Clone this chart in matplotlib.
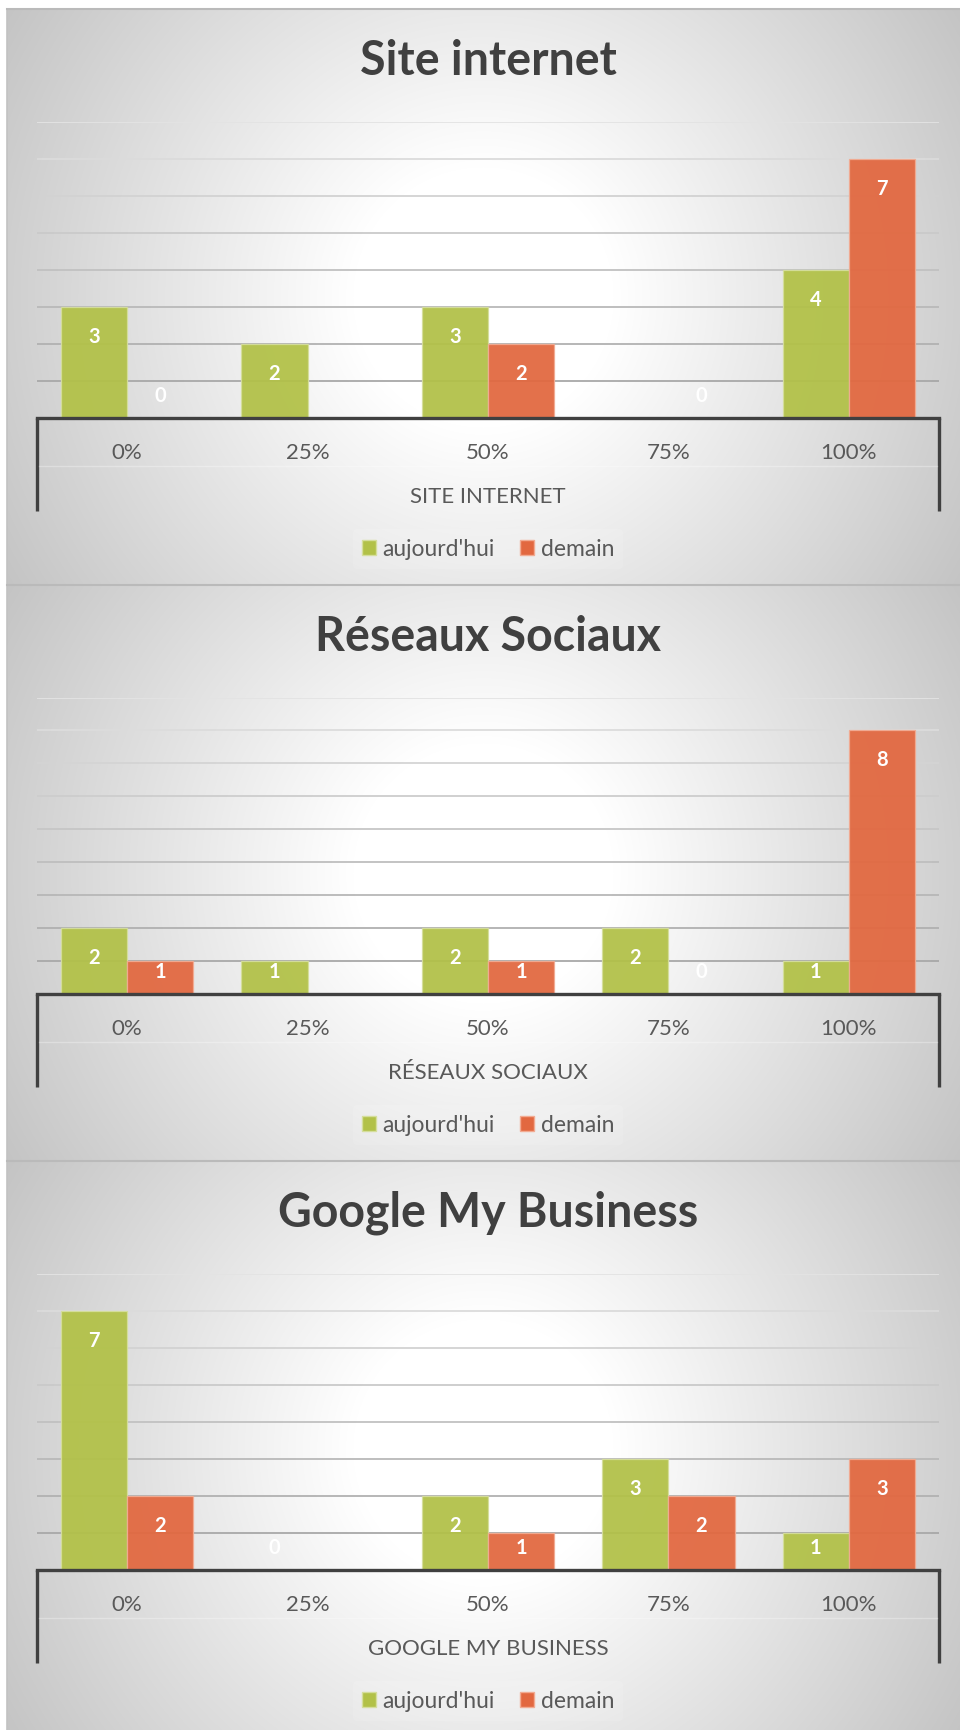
import numpy as np
import matplotlib
matplotlib.use("Agg")
import matplotlib.pyplot as plt
from matplotlib.patches import Patch

plt.rcParams['font.family'] = ['Lato', 'DejaVu Sans']

# ---- data (None = no bar / no label) ----
categories = ['0%', '25%', '50%', '75%', '100%']
series_names = ["aujourd'hui", 'demain']

titles = ['Site internet', 'Réseaux Sociaux', 'Google My Business']
axis_titles = ['SITE INTERNET', 'RÉSEAUX SOCIAUX', 'GOOGLE MY BUSINESS']

site_auj = [3, 2, 3, None, 4]
site_dem = [0, None, 2, 0, 7]
reseaux_auj = [2, 1, 2, 2, 1]
reseaux_dem = [1, None, 1, 0, 8]
google_auj = [7, 0, 2, 3, 1]
google_dem = [2, None, 1, 2, 3]

y_max = [8, 9, 8]

panels_data = [(site_auj, site_dem), (reseaux_auj, reseaux_dem), (google_auj, google_dem)]

# ---- layout (pixels) ----
W, H = 960, 1731
panel_tops = [10, 586, 1162]
panel_bottoms = [586, 1162, 1731]
x_left, x_right = 37, 939
green = '#b2c148'
orange = '#e26840'

fig = plt.figure(figsize=(W / 100, H / 100), dpi=100)

# background: radial gradient per panel
bg = np.ones((H, W, 3))
yy, xx = np.mgrid[0:H, 0:W]
for top, bot in zip(panel_tops, panel_bottoms):
    cx, cy = 483, top + 288
    d = np.sqrt((xx - cx) ** 2 + (yy - cy) ** 2)
    v = 255 - 59 * np.clip((d - 130) / 427, 0, 1)
    mask = (yy >= top) & (yy < bot) & (xx >= 7)
    for c in range(3):
        bg[..., c][mask] = v[mask] / 255
bax = fig.add_axes([0, 0, 1, 1])
bax.imshow(bg, extent=(0, W, H, 0), aspect='auto', interpolation='bilinear')
bax.set_xlim(0, W)
bax.set_ylim(H, 0)
bax.axis('off')
bax.plot([7, 7], [10, H], color='#c2c2c2', lw=1.2)

for i, top in enumerate(panel_tops):
    auj, dem = panels_data[i]
    base = top + 409
    gtop = top + 112.5
    bax.plot([7, W], [top, top], color='#bababa', lw=1.5)

    ax = fig.add_axes([x_left / W, 1 - base / H, (x_right - x_left) / W, (base - gtop) / H])
    ax.patch.set_visible(False)
    ax.set_xlim(-0.5, 4.5)
    ax.set_ylim(0, y_max[i])
    for s in ['top', 'left', 'right']:
        ax.spines[s].set_visible(False)
    ax.spines['bottom'].set_color('#404040')
    ax.spines['bottom'].set_linewidth(2.4)
    ax.spines['bottom'].set_zorder(5)
    ax.set_yticks([])

    # gridlines, lighter toward the top
    n = y_max[i]
    for k in range(1, n + 1):
        g = 0.66 + 0.23 * (k - 1) / (n - 1)
        ax.axhline(k, color=(g, g, g), lw=1.3, zorder=1)

    unit_px = (base - gtop) / n
    x = np.arange(len(categories))
    w = 0.367
    for vals, off, col, ec in [(auj, -w / 2, green, '#d5de9c'), (dem, w / 2, orange, '#f2ab92')]:
        hv = [v if v is not None else 0 for v in vals]
        ax.bar(x + off, hv, width=w, color=col, alpha=0.94, edgecolor=ec, linewidth=0.9, zorder=2)
        for xi, v in zip(x, vals):
            if v is None:
                continue
            ypx = max(v * unit_px - 29, 23)
            ax.text(xi + off, ypx / unit_px, str(v), ha='center', va='center',
                    color='white', fontsize=14.5, fontweight='bold', zorder=4)

    ax.set_xticks(x)
    ax.set_xticklabels(categories, fontsize=16, color='#595959')
    ax.tick_params(axis='x', length=0, pad=17)

    handles = [Patch(facecolor=green, edgecolor='#d5de9c'), Patch(facecolor=orange, edgecolor='#f2ab92')]
    leg = ax.legend(handles, series_names, loc='center', bbox_to_anchor=(0.5, -(131) / (base - gtop)),
                    ncol=2, frameon=True, fontsize=16.5, labelcolor='#595959',
                    handlelength=0.6, handleheight=0.6, handletextpad=0.3, columnspacing=1.1)
    leg.get_frame().set_facecolor('white')
    leg.get_frame().set_alpha(0.12)
    leg.get_frame().set_edgecolor('none')

    # multi-level category frame
    bax.plot([x_left, x_left], [base, top + 502], color='#404040', lw=2.4, solid_capstyle='butt')
    bax.plot([x_right, x_right], [base, top + 502], color='#404040', lw=2.4, solid_capstyle='butt')
    bax.plot([x_left + 2, x_right - 2], [top + 457, top + 457], color='white', lw=1, alpha=0.3)

    bax.text(488, top + 51, titles[i], ha='center', va='center', fontsize=33.5,
             fontweight='bold', color='#404040')
    bax.text(488, top + 487, axis_titles[i], ha='center', va='center', fontsize=16, color='#595959')

fig.savefig('out.png', dpi=100)
